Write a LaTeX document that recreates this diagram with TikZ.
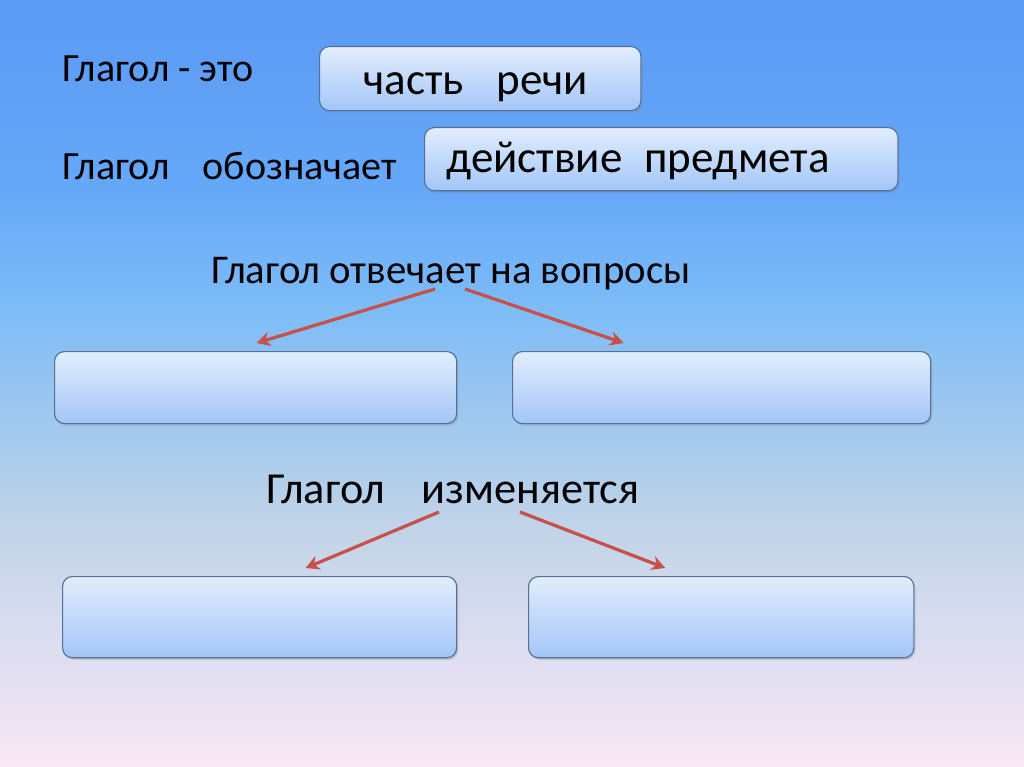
\documentclass[tikz,border=0pt]{standalone}
\usepackage{fontspec}
\setmainfont{Carlito}
\usetikzlibrary{arrows.meta, shadows}
\definecolor{bgA}{RGB}{90,154,245}
\definecolor{bgB}{RGB}{102,168,248}
\definecolor{bgC}{RGB}{125,188,248}
\definecolor{bgD}{RGB}{148,196,240}
\definecolor{bgE}{RGB}{172,205,235}
\definecolor{bgF}{RGB}{196,212,232}
\definecolor{bgG}{RGB}{214,219,238}
\definecolor{bgH}{RGB}{230,225,242}
\definecolor{bgI}{RGB}{250,232,245}
\definecolor{boxtop}{RGB}{226,237,253}
\definecolor{boxbot}{RGB}{162,198,247}
\definecolor{boxline}{RGB}{85,112,150}
\definecolor{arrowred}{RGB}{198,80,74}
\pgfdeclareverticalshading{slidebg}{100bp}{color(0bp)=(bgI); color(25bp)=(bgI); color(30bp)=(bgH);
  color(35bp)=(bgG); color(40bp)=(bgF); color(45bp)=(bgE); color(50bp)=(bgD); color(55bp)=(bgC);
  color(62.5bp)=(bgB); color(75bp)=(bgA); color(100bp)=(bgA)}
\tikzset{
  >={Stealth[length=3.4mm,width=3.6mm]},
  base/.style = {draw=boxline, line width=0.8pt, rounded corners=7pt,
                 top color=boxtop, bottom color=boxbot, anchor=north west,
                 drop shadow={opacity=0.3, shadow xshift=1.2pt, shadow yshift=-1.5pt}},
}

\begin{document}
\begin{tikzpicture}[x=0.025cm, y=-0.025cm,
            label/.style  = {anchor=base west, font=\fontsize{28.5}{32}\selectfont, inner sep=0pt},
            title/.style  = {anchor=base, font=\fontsize{29}{33}\selectfont, inner sep=0pt},
            answer/.style = {anchor=base, font=\fontsize{32}{36}\selectfont, inner sep=0pt},
            link/.style   = {->, draw=arrowred, line width=2.3pt},
        ]
        \shade[shading=slidebg] (0,0) rectangle (1024,767);
        \useasboundingbox (0,0) rectangle (1024,767);

        % what a verb is
        \node[label] (isText)  at (62,82)  {Глагол - это};
        \node[label] (actText) at (62,180) {Глагол\hspace{0.6em} обозначает};
        \node[base, minimum width=8.03cm,  minimum height=1.6cm]  (part)   at (319,46)  {};
        \node[base, minimum width=11.83cm, minimum height=1.58cm] (action) at (424,127) {};
        \node[answer] (partText)   at (476,95)  {часть\hspace{0.5em} речи};
        \node[answer] (actionText) at (638,173) {действие\hspace{0.25em} предмета};

        % questions
        \node[title] (ask) at (451,283) {Глагол отвечает на вопросы};
        \node[base, minimum width=10.05cm, minimum height=1.8cm] (askL) at (54,351)  {};
        \node[base, minimum width=10.45cm, minimum height=1.8cm] (askR) at (512,351) {};
        \coordinate (askFromL) at (435,289);
        \coordinate (askFromR) at (465,289);
        \draw[link] (askFromL) -- ([shift={(1,-8)}]askL.north);
        \draw[link] (askFromR) -- ([shift={(-98,-8)}]askR.north);

        % changes
        \node[title, font=\fontsize{31.5}{35}\selectfont] (change) at (453,503) {Глагол\hspace{0.6em} изменяется};
        \node[base, minimum width=9.85cm, minimum height=2.03cm] (changeL) at (62,576)  {};
        \node[base, minimum width=9.63cm, minimum height=2.03cm] (changeR) at (528,576) {};
        \coordinate (changeFromL) at (439,512);
        \coordinate (changeFromR) at (520,512);
        \draw[link] (changeFromL) -- ([shift={(46,-8)}]changeL.north);
        \draw[link] (changeFromR) -- ([shift={(-56,-8)}]changeR.north);
\end{tikzpicture}
\end{document}
